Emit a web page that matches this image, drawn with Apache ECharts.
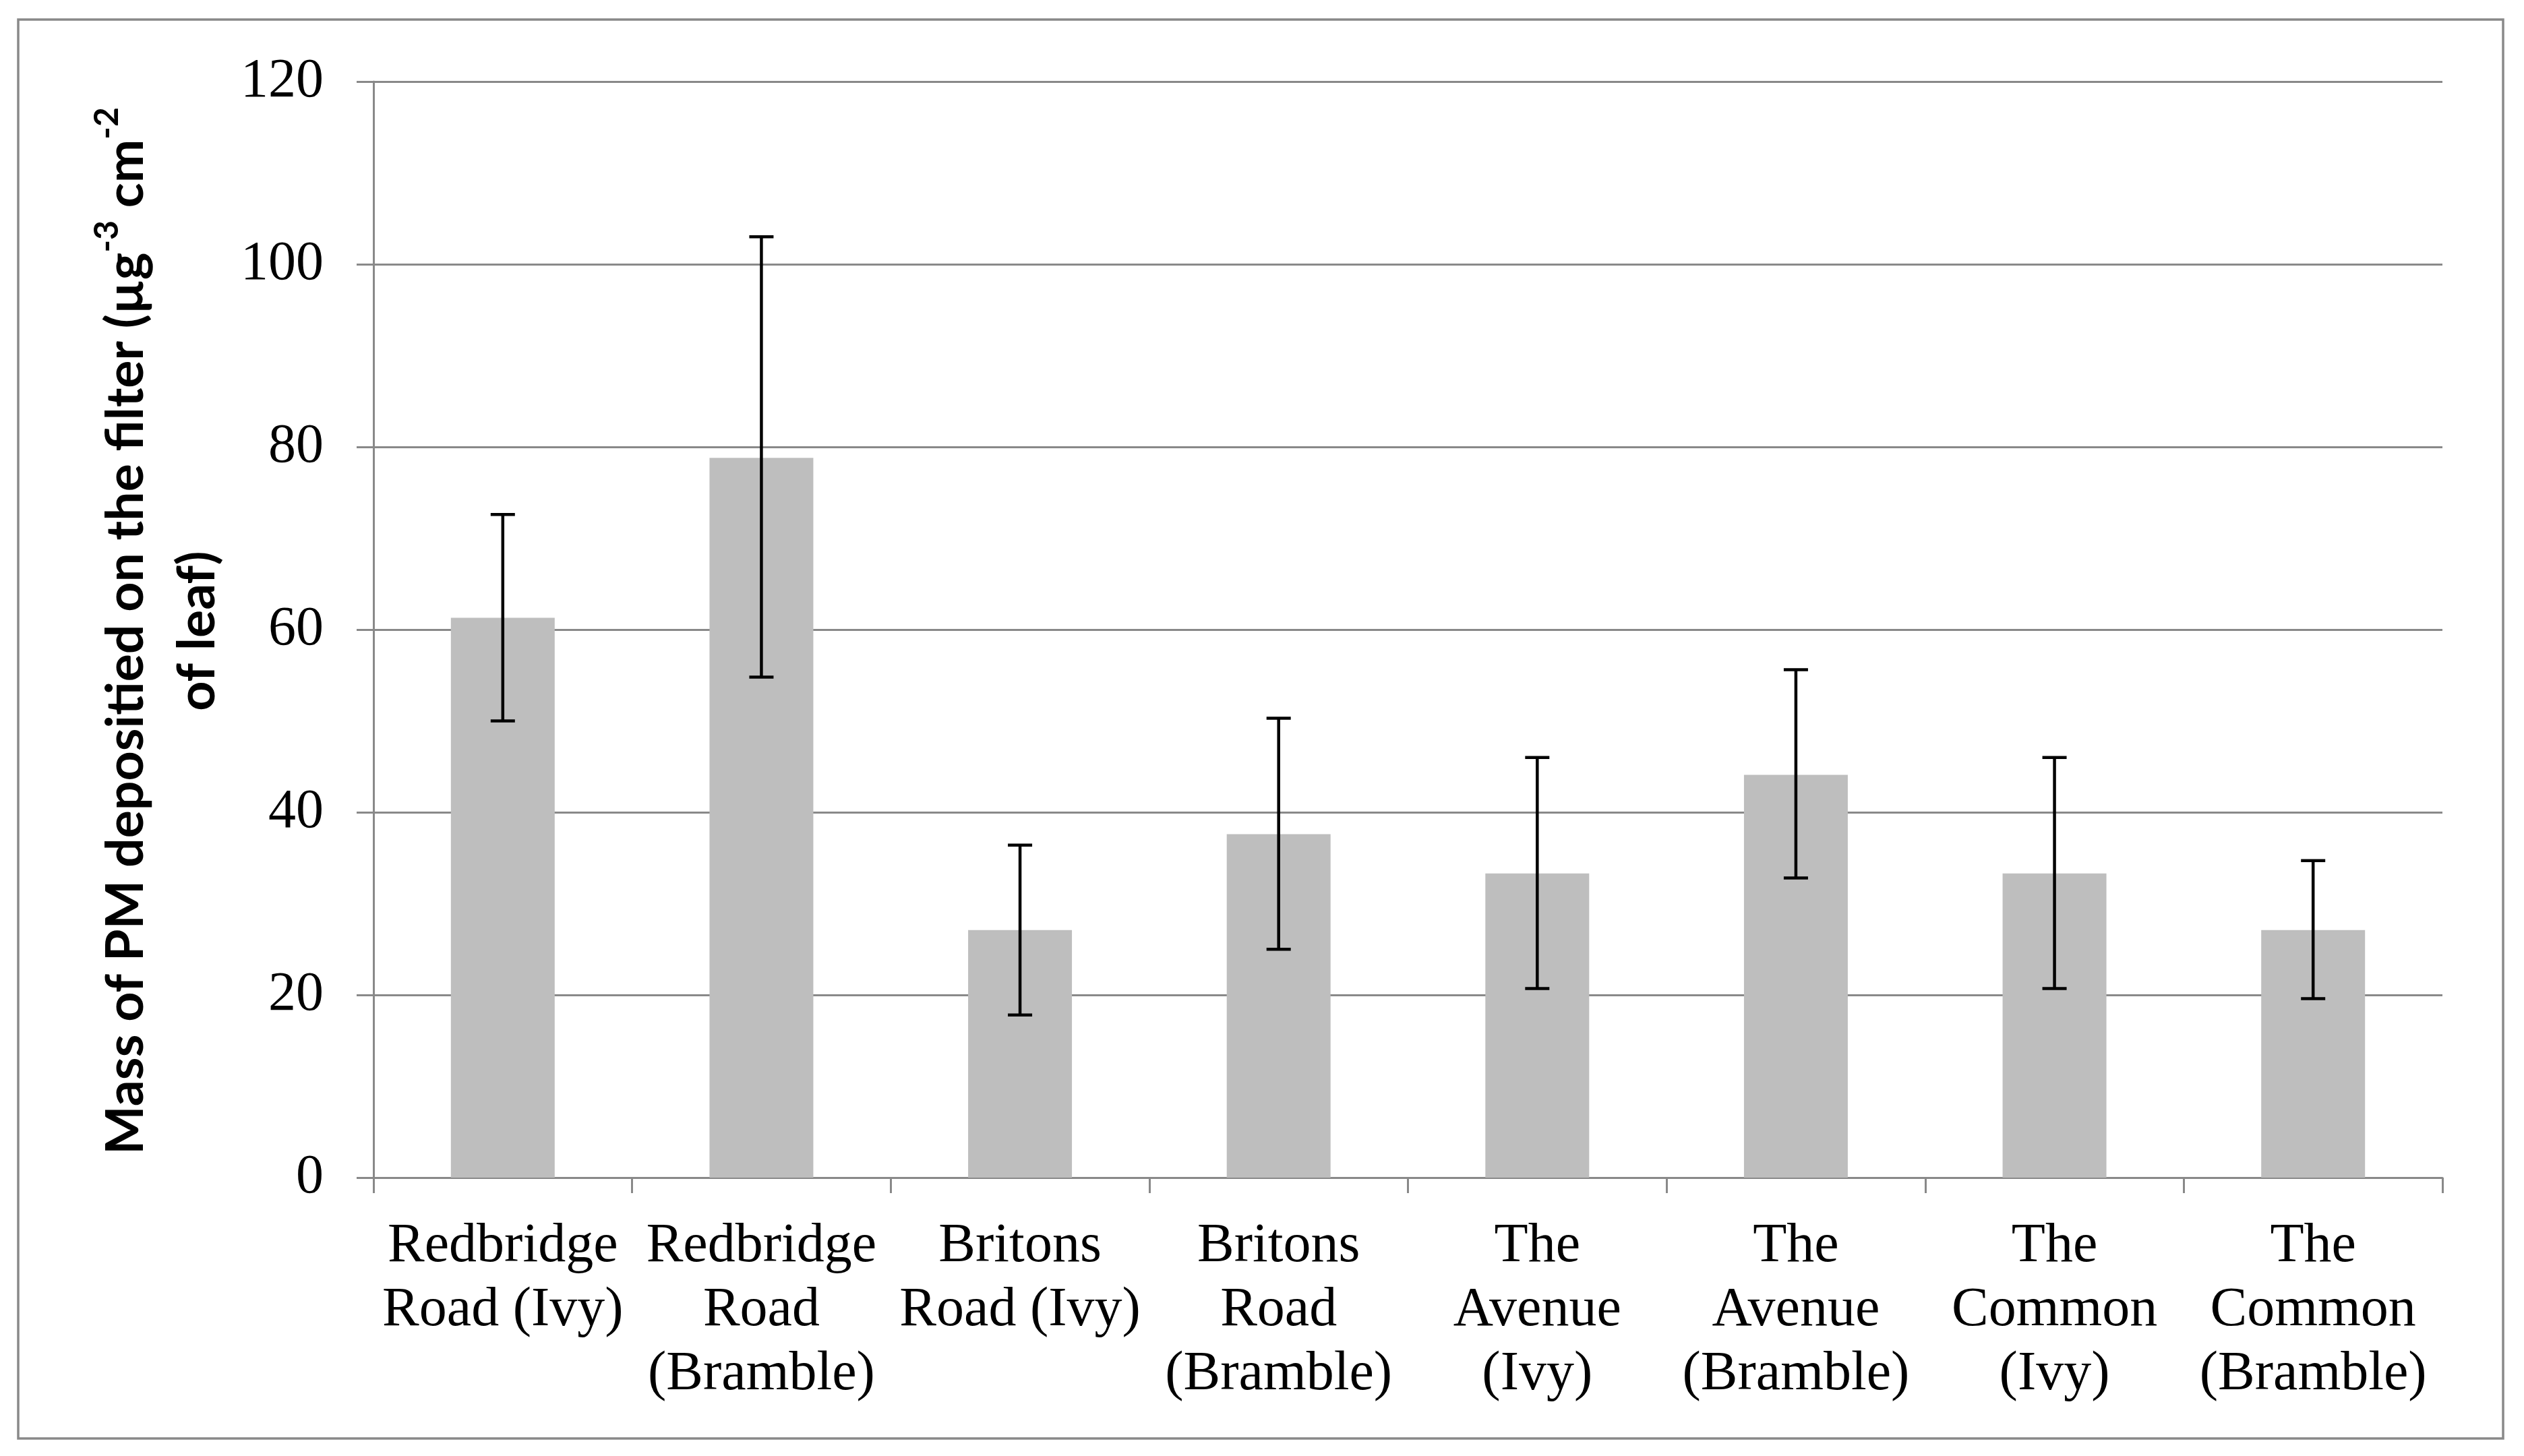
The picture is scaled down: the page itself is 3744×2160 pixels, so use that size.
<!DOCTYPE html>
<html>
<head>
<meta charset="utf-8">
<script src="https://cdn.jsdelivr.net/npm/echarts@6/dist/echarts.min.js"></script>
<style>
html, body { margin: 0; padding: 0; background: #ffffff; }
#chart { width: 3744px; height: 2160px; }
</style>
</head>
<body>
<div id="chart"></div>
<script>
// ---- data ----
var categories = [
  'Redbridge\nRoad (Ivy)',
  'Redbridge\nRoad\n(Bramble)',
  'Britons\nRoad (Ivy)',
  'Britons\nRoad\n(Bramble)',
  'The\nAvenue\n(Ivy)',
  'The\nAvenue\n(Bramble)',
  'The\nCommon\n(Ivy)',
  'The\nCommon\n(Bramble)'
];
var meanValues = [61.3, 78.8, 27.1, 37.6, 33.3, 44.1, 33.3, 27.1];
var errorLower = [50.0, 54.8, 17.8, 25.0, 20.7, 32.8, 20.7, 19.6];
var errorUpper = [72.6, 103.0, 36.4, 50.3, 46.0, 55.6, 46.0, 34.7];
var yTicks = [0, 20, 40, 60, 80, 100, 120];

var errorData = categories.map(function (c, i) {
  return [i, errorLower[i], errorUpper[i]];
});

var chart = echarts.init(document.getElementById('chart'), null, { renderer: 'canvas' });

var serif = '"Liberation Serif", "Times New Roman", serif';
var gridColor = '#898989';

var option = {
  backgroundColor: '#ffffff',
  animation: false,
  grid: { left: 554, right: 121, top: 121, bottom: 413, containLabel: false },
  xAxis: {
    type: 'category',
    data: categories,
    axisLine: { show: true, lineStyle: { color: gridColor, width: 3 } },
    axisTick: { show: true, length: 23, interval: 0, alignWithLabel: false, lineStyle: { color: gridColor, width: 3 } },
    axisLabel: {
      interval: 0,
      margin: 55,
      color: '#000000',
      fontFamily: serif,
      fontSize: 82,
      lineHeight: 95,
      align: 'center'
    },
    splitLine: { show: false }
  },
  yAxis: {
    type: 'value',
    min: yTicks[0],
    max: yTicks[yTicks.length - 1],
    interval: 20,
    axisLine: { show: true, lineStyle: { color: gridColor, width: 3 } },
    axisTick: { show: true, length: 25, lineStyle: { color: gridColor, width: 3 } },
    axisLabel: {
      margin: 74,
      color: '#000000',
      fontFamily: serif,
      fontSize: 82
    },
    splitLine: { show: true, lineStyle: { color: gridColor, width: 3 } }
  },
  series: [
    {
      type: 'bar',
      data: meanValues,
      barWidth: 154,
      itemStyle: { color: '#bebebe' },
      silent: true
    },
    {
      type: 'custom',
      data: errorData,
      silent: true,
      z: 10,
      renderItem: function (params, api) {
        var x = api.value(0);
        var lo = api.coord([x, api.value(1)]);
        var hi = api.coord([x, api.value(2)]);
        var hw = 18;
        var style = { stroke: '#000000', lineWidth: 4.5 };
        return {
          type: 'group',
          children: [
            { type: 'line', shape: { x1: hi[0], y1: hi[1], x2: lo[0], y2: lo[1] }, style: style },
            { type: 'line', shape: { x1: hi[0] - hw, y1: hi[1], x2: hi[0] + hw, y2: hi[1] }, style: style },
            { type: 'line', shape: { x1: lo[0] - hw, y1: lo[1], x2: lo[0] + hw, y2: lo[1] }, style: style }
          ]
        };
      }
    }
  ],
  graphic: [
    {
      type: 'rect',
      shape: { x: 27, y: 29, width: 3686, height: 2105 },
      style: { fill: 'none', stroke: gridColor, lineWidth: 3.5 },
      silent: true,
      z: -1
    },
    {
      type: 'text',
      x: 240,
      y: 936,
      rotation: Math.PI / 2,
      silent: true,
      style: {
        text: '{b|Mass of PM depositied on the filter (µg}{sup|-3}{b| cm}{sup|-2}\n{b|of leaf)}',
        align: 'center',
        verticalAlign: 'middle',
        rich: {
          b: { fontFamily: 'Lato', fontWeight: 'bold', fontSize: 77, lineHeight: 106, fill: '#000000' },
          sup: { fontFamily: 'Lato', fontWeight: 'bold', fontSize: 50, lineHeight: 60, verticalAlign: 'top', fill: '#000000' }
        }
      }
    }
  ]
};

chart.setOption(option);
</script>
</body>
</html>
